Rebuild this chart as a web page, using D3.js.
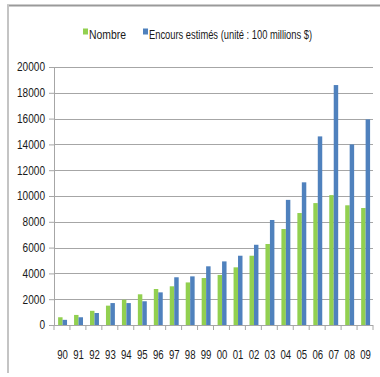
<!DOCTYPE html>
<html>
<head>
<meta charset="utf-8">
<script src="https://cdn.jsdelivr.net/npm/d3@7/dist/d3.min.js"></script>
<style>
  html, body { margin: 0; padding: 0; background: #ffffff; }
  svg { display: block; }
  text { font-family: "Liberation Sans", Arial, sans-serif; fill: #1a1a1a; }
</style>
</head>
<body>
<svg id="chart" width="380" height="377"></svg>
<script>
// Years (two-digit labels)
const years = ["90","91","92","93","94","95","96","97","98","99","00","01","02","03","04","05","06","07","08","09"];
// Number of transactions
const nombre = [600, 780, 1100, 1500, 1960, 2380, 2790, 3000, 3300, 3640, 3880, 4470, 5370, 6280, 7440, 8680, 9450, 10070, 9280, 9070];
// Estimated outstanding amount (unit: 100 million $)
const encours = [400, 600, 930, 1700, 1700, 1840, 2530, 3700, 3770, 4550, 4930, 5370, 6220, 8140, 9700, 11060, 14620, 18600, 14000, 15940];
const yTicks = [0, 2000, 4000, 6000, 8000, 10000, 12000, 14000, 16000, 18000, 20000];
const seriesNames = ["Nombre", "Encours estimés (unité : 100 millions $)"];
const seriesColors = ["#92d050", "#4f81bd"];

const svg = d3.select("#chart");

// Outer frame (top and left edges)
svg.append("line").attr("x1", 7).attr("x2", 380).attr("y1", 5.5).attr("y2", 5.5)
  .attr("stroke", "#9a9a9a").attr("stroke-width", 2);
svg.append("line").attr("x1", 8).attr("x2", 8).attr("y1", 5).attr("y2", 373)
  .attr("stroke", "#c4c4c4").attr("stroke-width", 2);

const plot = { left: 54, right: 373, top: 67, bottom: 325 };

const x = d3.scaleBand().domain(years).range([plot.left, plot.right])
  .paddingInner(0.44).paddingOuter(0.22);
const y = d3.scaleLinear().domain([0, 20000]).range([plot.bottom, plot.top]);
const sub = d3.scaleBand().domain([0, 1]).range([0, x.bandwidth()]);

// Horizontal gridlines
svg.append("g").selectAll("line").data(yTicks.slice(1)).join("line")
  .attr("x1", plot.left).attr("x2", plot.right)
  .attr("y1", d => Math.round(y(d)) + 0.5).attr("y2", d => Math.round(y(d)) + 0.5)
  .attr("stroke", "#a6a6a6").attr("stroke-width", 1.2);

// Y axis
const ySqueeze = 0.84;
const yAxis = d3.axisLeft(y).tickValues(yTicks).tickSize(5).tickPadding(4).tickFormat(d3.format("d"));
const gy = svg.append("g").attr("transform", `translate(${plot.left},0)`).call(yAxis);
gy.select(".domain").attr("stroke", "#a6a6a6");
gy.selectAll(".tick line").attr("stroke", "#a6a6a6");
gy.selectAll(".tick text")
  .attr("fill", "#1a1a1a")
  .attr("x", -9 / ySqueeze)
  .attr("transform", `scale(${ySqueeze},1)`)
  .style("font-size", "12px")
  .style("font-family", "'Liberation Sans', Arial, sans-serif");

// Bars
const groups = svg.append("g").selectAll("g").data(years).join("g")
  .attr("transform", d => `translate(${x(d) + 0.6},0)`);
[nombre, encours].forEach((vals, si) => {
  groups.append("rect")
    .attr("x", sub(si))
    .attr("width", sub.bandwidth())
    .attr("y", (d, i) => y(vals[i]))
    .attr("height", (d, i) => y(0) - y(vals[i]))
    .attr("fill", seriesColors[si]);
});

// X axis with ticks at category boundaries
const step = x.step();
const boundaries = d3.range(years.length + 1).map(i => plot.left + i * step);
const gx = svg.append("g");
gx.append("line").attr("x1", plot.left).attr("x2", plot.right)
  .attr("y1", plot.bottom + 0.5).attr("y2", plot.bottom + 0.5)
  .attr("stroke", "#a6a6a6").attr("stroke-width", 1.2);
gx.selectAll("line.tk").data(boundaries).join("line").attr("class", "tk")
  .attr("x1", d => d).attr("x2", d => d)
  .attr("y1", plot.bottom).attr("y2", plot.bottom + 5)
  .attr("stroke", "#a6a6a6");
gx.selectAll("text").data(years).join("text")
  .attr("transform", d => `translate(${x(d) + x.bandwidth() / 2 + 0.6},358.5) scale(0.74,1)`)
  .attr("text-anchor", "middle")
  .style("font-size", "13px")
  .text(d => d);

// Legend
const legend = svg.append("g");
const legendItems = [{ x: 83, w: 37, label: seriesNames[0], color: seriesColors[0] },
                     { x: 143, w: 163, label: seriesNames[1], color: seriesColors[1] }];
legendItems.forEach(it => {
  legend.append("rect").attr("x", it.x).attr("y", 28.5).attr("width", 5).attr("height", 6).attr("fill", it.color);
  legend.append("text").attr("x", it.x + 6).attr("y", 38.5)
    .attr("textLength", it.w).attr("lengthAdjust", "spacingAndGlyphs")
    .style("font-size", "13px").text(it.label);
});
</script>
</body>
</html>
